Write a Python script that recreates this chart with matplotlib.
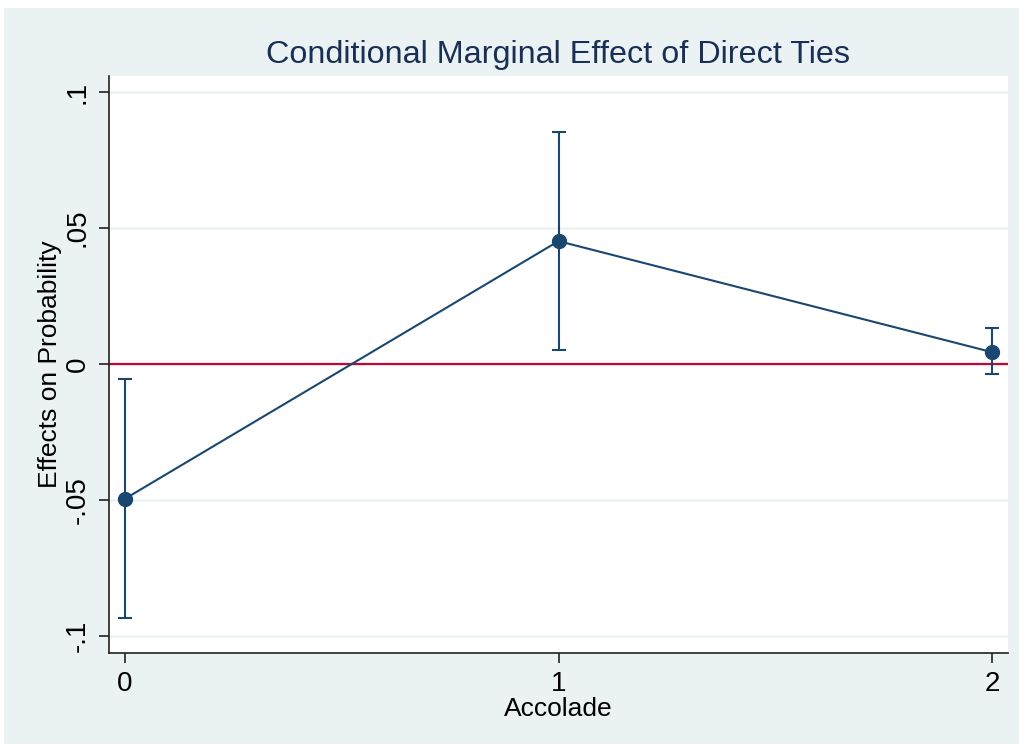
import matplotlib
matplotlib.use("Agg")
import matplotlib.pyplot as plt
from matplotlib.patches import Rectangle

# data
accolade = [0, 1, 2]
effect = [-0.0495, 0.0452, 0.0044]
ci_low = [-0.0934, 0.0051, -0.0037]
ci_high = [-0.0055, 0.0853, 0.0132]
yticks = [-0.1, -0.05, 0, 0.05, 0.1]
ytick_labels = ["-.1", "-.05", "0", ".05", ".1"]
xticks = [0, 1, 2]
xtick_labels = ["0", "1", "2"]

navy = "#1a476f"
bg = "#eaf2f3"
red = "#c10534"

plt.rcParams['font.family'] = ['Liberation Sans', 'DejaVu Sans']

fig = plt.figure(figsize=(10.23, 7.48), dpi=100, facecolor="white")
W, H = 1023, 748
fig.patches.append(Rectangle((4 / W, 1 - 744 / H), (1019 - 4) / W, (744 - 8) / H,
                             transform=fig.transFigure, facecolor=bg, edgecolor="none", zorder=-10))

left, right, top, bottom = 109, 1008, 76, 653
ax = fig.add_axes([left / W, 1 - bottom / H, (right - left) / W, (bottom - top) / H])
ax.set_facecolor("white")

ax.set_xlim(-0.037, 2.037)
ax.set_ylim(-0.1062, 0.1059)

for yv in yticks:
    ax.axhline(yv, color=bg, lw=1.8, zorder=0)
ax.axhline(0, color=red, lw=1.6, zorder=1)

lo_err = [e - l for e, l in zip(effect, ci_low)]
hi_err = [h - e for e, h in zip(effect, ci_high)]
ax.errorbar(accolade, effect, yerr=[lo_err, hi_err], fmt='o', color=navy, ecolor=navy,
            elinewidth=1.5, capsize=4.7, capthick=1.5, markersize=10, zorder=3)
ax.plot(accolade, effect, color=navy, lw=1.5, zorder=2)

ax.set_xticks(xticks)
ax.set_xticklabels(xtick_labels)
ax.set_yticks(yticks)
ax.set_yticklabels(ytick_labels, rotation=90, va='center')

for s in ["top", "right"]:
    ax.spines[s].set_visible(False)
for s in ["left", "bottom"]:
    ax.spines[s].set_color("#222222")
    ax.spines[s].set_linewidth(1.2)

ax.tick_params(axis='both', direction='out', length=7, width=1.2, color="#222222",
               labelsize=20, labelcolor="black", pad=6)

ax.set_xlabel("Accolade", fontsize=19, labelpad=0)
ax.set_ylabel("Effects on Probability", fontsize=19, labelpad=2)
ax.set_title("Conditional Marginal Effect of Direct Ties", fontsize=23.3, color="#1a2f55", pad=9)

fig.savefig("out.png", dpi=100, facecolor=fig.get_facecolor())
